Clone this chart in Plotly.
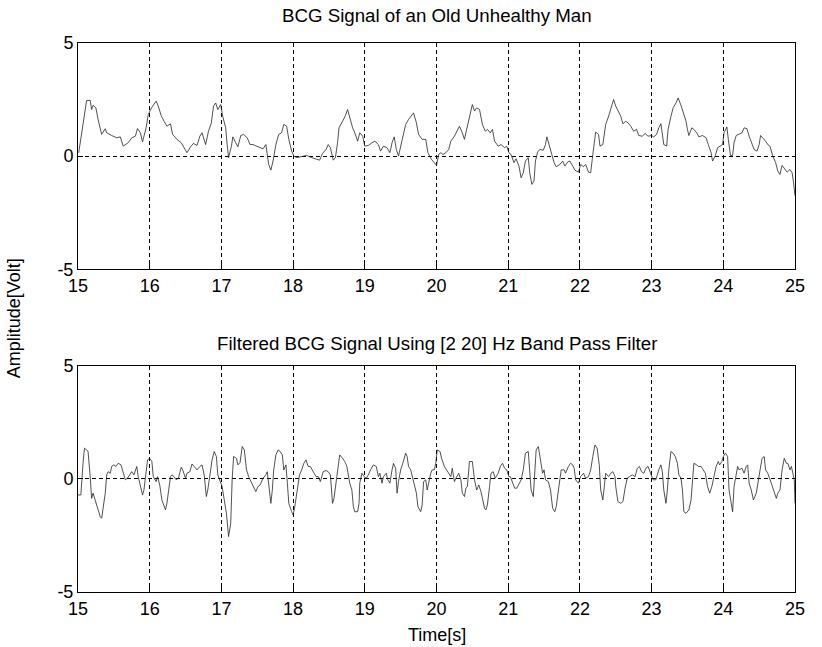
import plotly.graph_objects as go
from plotly.subplots import make_subplots

# raw BCG signal (top panel)
raw_t = [
    15.01, 15.10, 15.12, 15.17, 15.19, 15.21, 15.25, 15.28, 15.33, 15.38, 15.40, 15.47, 15.54, 15.59, 15.63,
    15.70, 15.75, 15.80, 15.83, 15.87, 15.90, 15.95, 15.98, 16.03, 16.09, 16.12, 16.16, 16.20, 16.24, 16.29,
    16.32, 16.38, 16.44, 16.48, 16.52, 16.57, 16.61, 16.66, 16.70, 16.73, 16.78, 16.82, 16.86, 16.89, 16.92,
    16.95, 16.99, 17.02, 17.06, 17.08, 17.10, 17.14, 17.16, 17.20, 17.23, 17.27, 17.31, 17.36, 17.40,
    17.44, 17.49, 17.53, 17.58, 17.62, 17.64, 17.66, 17.69, 17.72, 17.76, 17.80, 17.84, 17.87, 17.91, 17.94,
    17.98, 18.01, 18.05, 18.11, 18.19, 18.26, 18.32, 18.37, 18.41, 18.46, 18.49, 18.52, 18.56, 18.59, 18.62,
    18.64, 18.69, 18.73, 18.76, 18.79, 18.83, 18.86, 18.90, 18.93, 18.97, 19.00, 19.05, 19.10, 19.14, 19.19,
    19.22, 19.26, 19.31, 19.35, 19.38, 19.41, 19.44, 19.47, 19.52, 19.57, 19.61, 19.64, 19.68, 19.72, 19.75,
    19.80, 19.85, 19.88, 19.92,
    19.93, 19.97, 20.00, 20.03, 20.06, 20.09, 20.13, 20.17, 20.20, 20.25, 20.29, 20.32, 20.36, 20.39, 20.41,
    20.45, 20.48, 20.50, 20.53, 20.56, 20.60, 20.62, 20.64, 20.68, 20.71, 20.75, 20.78, 20.81, 20.86, 20.90,
    20.95, 20.98, 21.01, 21.04, 21.08, 21.11, 21.15, 21.18, 21.21, 21.24, 21.28, 21.30, 21.33, 21.36, 21.38,
    21.41, 21.44, 21.49, 21.52, 21.54, 21.57, 21.60, 21.64, 21.67, 21.72, 21.76, 21.79, 21.83, 21.86, 21.90,
    21.93, 21.98, 22.01, 22.05, 22.08, 22.12, 22.15, 22.18, 22.20, 22.22, 22.26, 22.28, 22.32, 22.34, 22.36,
    22.40,
    22.44, 22.47, 22.50, 22.53, 22.57, 22.60, 22.64, 22.67, 22.71, 22.75, 22.79, 22.82, 22.87, 22.91, 22.95,
    23.00, 23.03, 23.07, 23.10, 23.13, 23.15, 23.17, 23.21, 23.23, 23.27, 23.30, 23.34, 23.37, 23.41, 23.44,
    23.48, 23.50, 23.52, 23.56, 23.59, 23.63, 23.66, 23.71, 23.76, 23.79, 23.83, 23.85, 23.89, 23.92, 23.95,
    23.99, 24.01, 24.05, 24.07, 24.10, 24.13, 24.15, 24.18, 24.21, 24.26, 24.29, 24.33, 24.36, 24.40, 24.43,
    24.47, 24.50, 24.52, 24.55, 24.59, 24.62, 24.65, 24.69, 24.73, 24.76, 24.79, 24.82, 24.86, 24.89, 24.93,
    24.96, 24.98, 25.00,
]
raw_v = [
    0.15, 2.21, 2.46, 2.46, 2.06, 2.24, 2.13, 1.62, 0.96, 1.21, 1.03, 0.91, 0.81, 0.85, 0.44,
    0.59, 0.81, 0.88, 1.22, 1.03, 0.63, 1.25, 1.84, 2.16, 2.43, 2.21, 1.79, 1.54, 1.32, 1.43,
    0.96, 0.74, 0.59, 0.37, 0.15, 0.41, 0.56, 0.47, 0.88, 1.03, 0.51, 1.10, 1.47, 2.21, 2.35,
    2.06, 2.28, 1.74, 1.25, 0.51, -0.07, 0.44, 0.85, 0.59, 0.41, 0.91, 0.96, 0.81, 0.51,
    0.51, 0.44, 0.41, 0.32, 0.51, 0.07, -0.37, -0.62, -0.22, 0.51, 0.96, 1.03, 1.40, 1.32, 0.74,
    0.22, 0.00, -0.07, -0.04, 0.03, -0.07, -0.12, -0.18, 0.12, 0.29, 0.51, 0.37, -0.18, -0.07, 0.59,
    1.25, 1.54, 1.79, 2.06, 1.69, 1.25, 1.03, 0.66, 1.03, 0.88, 0.44, 0.47, 0.59, 0.66, 0.51,
    0.22, 0.44, 0.37, 0.15, 0.59, 0.85, 0.29, 0.00, 0.74, 1.40, 1.62, 1.74, 1.91, 1.47, 0.96,
    0.74, 0.74, 0.15, -0.07,
    -0.15, -0.29, -0.41, 0.07, 0.15, 0.07, 0.15, 0.29, 0.66, 0.88, 1.10, 1.32, 1.03, 0.74, 1.03,
    1.62, 2.06, 2.28, 1.99, 2.13, 2.06, 1.69, 1.40, 1.10, 1.18, 1.03, 1.18, 0.66, 0.44, 0.51,
    0.37, 0.44, 0.15, 0.07, -0.29, -0.12, -0.44, -0.96, -0.74, -0.22, -0.07, -0.74, -1.25, -1.10, -0.22,
    0.18, 0.29, 0.26, 0.51, 0.85, 0.51, 0.07, -0.29, -0.47, -0.37, -0.22, -0.44, -0.26, -0.22, -0.44,
    -0.62, -0.71, -0.37, -0.47, -0.37, -0.71, -0.74, 0.07, 0.51, 1.06, 0.96, 0.44, 0.51, 1.03, 1.40,
    1.76,
    2.13, 2.50, 2.21, 1.99, 1.76, 1.43, 1.54, 1.47, 1.32, 1.10, 1.18, 0.91, 0.88, 1.00, 0.88,
    0.91, 0.85, 0.96, 1.25, 1.43, 1.03, 0.51, 0.44, 1.18, 1.76, 2.13, 2.35, 2.57, 2.24, 1.91,
    1.54, 1.18, 0.91, 1.25, 1.18, 1.03, 0.85, 0.91, 0.81, 0.51, 0.15, -0.22, 0.03, 0.37, 0.44,
    0.51, 1.03, 1.29, 0.74, 0.03, 0.03, 0.59, 0.91, 0.96, 1.03, 1.25, 1.21, 0.88, 0.51, 0.29,
    0.22, 0.51, 0.91, 0.81, 0.66, 0.51, 0.44, 0.00, -0.29, -0.66, -0.81, -0.41, -0.59, -0.71, -0.59,
    -0.74, -1.18, -1.76,
]

# band-pass filtered signal (bottom panel)
filt_t = [
    15.00, 15.04, 15.07, 15.09, 15.12, 15.14, 15.17, 15.19, 15.21, 15.24, 15.26, 15.28, 15.31, 15.33, 15.35,
    15.38, 15.40, 15.42, 15.45, 15.47, 15.50, 15.53, 15.56, 15.60, 15.62, 15.66, 15.69, 15.73, 15.75, 15.78,
    15.82, 15.84, 15.87, 15.90, 15.92, 15.95, 15.97, 16.00, 16.03, 16.05, 16.09, 16.11, 16.14, 16.17, 16.19,
    16.22, 16.24, 16.26, 16.29, 16.31, 16.34, 16.37, 16.40, 16.44, 16.46, 16.50, 16.52, 16.56, 16.59, 16.62,
    16.66, 16.70, 16.73, 16.76, 16.79, 16.81, 16.84, 16.87, 16.90, 16.93, 16.95, 16.98, 17.01, 17.04, 17.07,
    17.10, 17.13, 17.15, 17.17, 17.21, 17.23, 17.26, 17.29, 17.32, 17.35, 17.38, 17.41,
    17.45, 17.48, 17.51, 17.54, 17.58, 17.62, 17.64, 17.66, 17.69, 17.71, 17.73, 17.76, 17.79, 17.82, 17.85,
    17.87, 17.90, 17.92, 17.94, 17.98, 18.00, 18.02, 18.05, 18.07, 18.09, 18.12, 18.15, 18.18, 18.21, 18.24,
    18.28, 18.32, 18.35, 18.38, 18.42, 18.46, 18.49, 18.52, 18.55, 18.57, 18.61, 18.63, 18.65, 18.69, 18.72,
    18.75, 18.77, 18.79, 18.82, 18.84, 18.86, 18.90, 18.92, 18.93, 18.96, 18.99, 19.02, 19.05, 19.08, 19.12,
    19.16, 19.19, 19.21, 19.24, 19.26, 19.30, 19.32, 19.35, 19.38, 19.40, 19.43, 19.45, 19.47, 19.50, 19.53,
    19.57, 19.59, 19.61, 19.64, 19.67, 19.69, 19.72, 19.74, 19.78, 19.80, 19.82, 19.85, 19.87,
    19.92, 19.94, 19.97, 19.99, 20.01, 20.05, 20.07, 20.11, 20.14, 20.17, 20.20, 20.22, 20.25, 20.27, 20.31,
    20.34, 20.36, 20.39, 20.41, 20.43, 20.46, 20.50, 20.53, 20.56, 20.59, 20.62, 20.64, 20.67, 20.69, 20.71,
    20.74, 20.76, 20.79, 20.82, 20.86, 20.89, 20.92, 20.95, 20.98, 21.01, 21.03, 21.06, 21.09, 21.12, 21.15,
    21.18, 21.21, 21.24, 21.28, 21.30, 21.32, 21.35, 21.37, 21.39, 21.42, 21.45, 21.48, 21.50, 21.52, 21.56,
    21.59, 21.62, 21.65, 21.67, 21.70, 21.72, 21.74, 21.78, 21.80, 21.84, 21.87, 21.90, 21.92, 21.94, 21.98,
    22.01, 22.05, 22.08, 22.12, 22.15, 22.18, 22.21, 22.24, 22.27, 22.29, 22.32, 22.34, 22.36, 22.40,
    22.43, 22.46, 22.49, 22.50, 22.53, 22.57, 22.60, 22.63, 22.66, 22.69, 22.73, 22.77, 22.80, 22.83, 22.86,
    22.89, 22.92, 22.95, 22.99, 23.02, 23.06, 23.08, 23.10, 23.13, 23.15, 23.17, 23.20, 23.22, 23.24, 23.27,
    23.30, 23.33, 23.36, 23.38, 23.41, 23.43, 23.45, 23.48, 23.50, 23.52, 23.55, 23.57, 23.59, 23.63, 23.65,
    23.69, 23.72, 23.75, 23.78, 23.81, 23.84, 23.87, 23.90, 23.93, 23.95, 23.98, 24.00, 24.03, 24.06, 24.08,
    24.11, 24.13, 24.15, 24.18, 24.20, 24.22, 24.26, 24.29, 24.32, 24.34, 24.36, 24.39, 24.42, 24.46, 24.49,
    24.52, 24.54, 24.57, 24.59, 24.62, 24.64, 24.67, 24.70, 24.74, 24.76, 24.79, 24.82, 24.85, 24.88, 24.90,
    24.93, 24.95, 24.97, 24.99, 25.00,
]
filt_v = [
    -0.71, -0.71, 0.69, 1.36, 1.28, 1.22, 0.10, -0.86, -0.63, -0.93, -1.08, -1.37, -1.67, -1.74, -1.22,
    -0.63, 0.18, 0.32, 0.25, 0.55, 0.62, 0.55, 0.69, 0.62, 0.40, -0.04, 0.03, 0.25, 0.32, 0.18,
    0.55, 0.10, -0.27, -0.71, -0.49, 0.25, 0.84, 0.91, 0.77, 0.10, -0.12, 0.10, -0.27, -0.93, -1.08,
    -1.37, -1.08, -0.63, 0.10, 0.18, 0.10, -0.04, 0.03, 0.52, 0.40, 0.03, 0.25, 0.32, 0.66, 0.55,
    0.40, 0.55, 0.62, 0.18, -0.78, -0.49, 0.25, 0.84, 1.21, 0.99, 0.18, -0.12, -0.34, -0.93, -1.52,
    -2.55, -1.96, -0.04, 0.99, 0.91, 0.62, 0.72, 1.43, 1.28, 0.40, 0.10, -0.12,
    -0.41, -0.56, -0.34, -0.27, 0.03, 0.18, 0.32, -0.19, -1.08, -0.49, 0.40, 1.06, 1.28, 1.21, 1.06,
    0.40, 0.62, -0.19, -1.08, -1.45, -1.59, -1.30, -0.63, -0.12, 0.18, 0.40, 0.69, 0.84, 0.55, 0.55,
    0.32, 0.10, 0.10, -0.12, 0.32, 0.37, 0.32, 0.18, -1.08, -0.86, 0.10, 0.69, 1.06, 0.91, 0.77,
    0.55, 0.10, -0.19, -0.49, -1.22, -1.45, -1.45, -1.08, -0.19, 0.25, 0.10, 0.03, 0.18, 0.40, 0.62,
    0.55, 0.10, 0.25, -0.19, 0.10, 0.25, -0.04, -0.19, 0.40, 0.69, 0.47, -0.63, -0.12, 0.40, 0.69,
    1.14, 0.99, 0.55, 0.40, 0.03, -0.19, -0.63, -1.22, -1.45, -1.15, -0.12, -0.04, -0.49,
    0.25, 0.40, 0.40, 0.69, 1.28, 1.21, 0.91, 0.55, 0.40, 0.25, 0.10, 0.47, -0.12, 0.03, 0.25,
    -0.04, -0.63, -0.78, -0.41, -0.34, 0.77, 0.77, -0.04, -0.49, -0.27, -0.56, -0.93, -1.30, -1.37, -1.15,
    -0.34, 0.25, 0.32, 0.03, 0.25, 0.55, 0.69, 0.47, 0.40, 0.10, 0.10, -0.19, -0.41, -0.41, -0.19,
    -0.04, 0.40, 1.14, 1.21, 0.40, -0.49, -0.78, 0.40, 1.28, 1.43, 0.84, 0.25, 0.40, -0.04, -0.12,
    -0.49, -1.30, -1.45, -1.22, -0.63, -0.04, 0.40, 0.40, 0.25, 0.55, 0.69, 0.62, 0.47, -0.04, -0.19,
    0.10, 0.25, 0.03, 0.10, 0.40, 0.99, 1.50, 1.36, 0.62, -0.49, -0.93, -0.34, 0.25, 0.10,
    0.25, 0.32, 0.10, -0.34, -1.00, -1.08, -1.00, -0.41, 0.03, 0.10, 0.18, 0.10, 0.47, 0.55, 0.32,
    0.25, 0.47, 0.55, 0.25, -0.04, -0.04, 0.25, 0.40, 0.62, 0.32, -0.49, -1.08, -0.49, 0.40, 1.21,
    1.14, 0.99, 0.69, 0.18, 0.03, -0.49, -1.45, -1.52, -1.45, -1.37, -0.93, -0.19, 0.69, 0.62, 0.55,
    0.55, 0.40, 0.25, -0.34, -0.63, -0.34, 0.10, 0.55, 0.77, 0.62, 0.77, 0.99, 1.14, 0.99, -0.49,
    -1.22, -1.45, -0.34, 0.18, 0.55, 0.40, 0.47, 0.25, 0.55, 0.62, -0.19, -0.49, -0.93, -0.63, -0.04,
    0.69, 0.91, 0.99, 0.40, 0.25, 0.10, -0.19, -0.49, -0.86, -0.63, -0.49, 0.40, 0.91, 0.69, 0.69,
    0.40, 0.55, 0.25, -0.04, -1.08,
]

assert len(raw_t) == len(raw_v), (len(raw_t), len(raw_v))
assert len(filt_t) == len(filt_v), (len(filt_t), len(filt_v))

x_ticks = list(range(15, 26))
y_ticks = [-5, 0, 5]
y_ticktext = ["-5", "0", "5"]  # plain hyphen, like the original
titles = ["BCG Signal of an Old Unhealthy Man",
          "Filtered BCG Signal Using [2 20] Hz Band Pass Filter"]

FONT = "Liberation Sans, Arial, Helvetica, sans-serif"

fig = make_subplots(rows=2, cols=1)
fig.add_trace(go.Scatter(x=raw_t, y=raw_v, mode="lines",
                         line=dict(color="#262626", width=0.8)), row=1, col=1)
fig.add_trace(go.Scatter(x=filt_t, y=filt_v, mode="lines",
                         line=dict(color="#262626", width=0.8)), row=2, col=1)

axis_style = dict(showline=True, linecolor="black", linewidth=1, mirror=True,
                  showgrid=True, gridcolor="black", gridwidth=1, griddash="4px,3px",
                  zeroline=False, ticks="inside", ticklen=5, tickcolor="black",
                  tickfont=dict(family=FONT, size=18, color="black"))

fig.update_xaxes(range=[15, 25], tickvals=x_ticks, **axis_style)
fig.update_yaxes(range=[-5, 5], tickvals=y_ticks, ticktext=y_ticktext, **axis_style)

# panel positions
fig.update_layout(
    xaxis=dict(domain=[0, 1]), xaxis2=dict(domain=[0, 1]),
    yaxis=dict(domain=[0.588, 1.0]), yaxis2=dict(domain=[0.0, 0.412]),
)

fig.update_layout(
    width=822, height=647,
    margin=dict(l=78, r=27, t=43, b=55),
    paper_bgcolor="white", plot_bgcolor="white",
    showlegend=False,
    font=dict(family=FONT, size=18, color="black"),
    annotations=[
        dict(text=titles[0], x=0.5, y=1.051, xref="paper", yref="paper",
             showarrow=False, xanchor="center", yanchor="middle", font=dict(size=18.7)),
        dict(text=titles[1], x=0.5, y=0.453, xref="paper", yref="paper",
             showarrow=False, xanchor="center", yanchor="middle", font=dict(size=18.7)),
        dict(text="Amplitude[Volt]", x=-0.089, y=0.499, xref="paper", yref="paper",
             showarrow=False, textangle=-90, xanchor="center", yanchor="middle", font=dict(size=18)),
        dict(text="Time[s]", x=0.5, y=-0.078, xref="paper", yref="paper",
             showarrow=False, xanchor="center", yanchor="middle", font=dict(size=18)),
    ],
)

# drop the browser's default page margin so the figure sits at the window corner
fig.write_html("out.html", config={"displayModeBar": False},
               post_script="document.body.style.margin='0px';")
